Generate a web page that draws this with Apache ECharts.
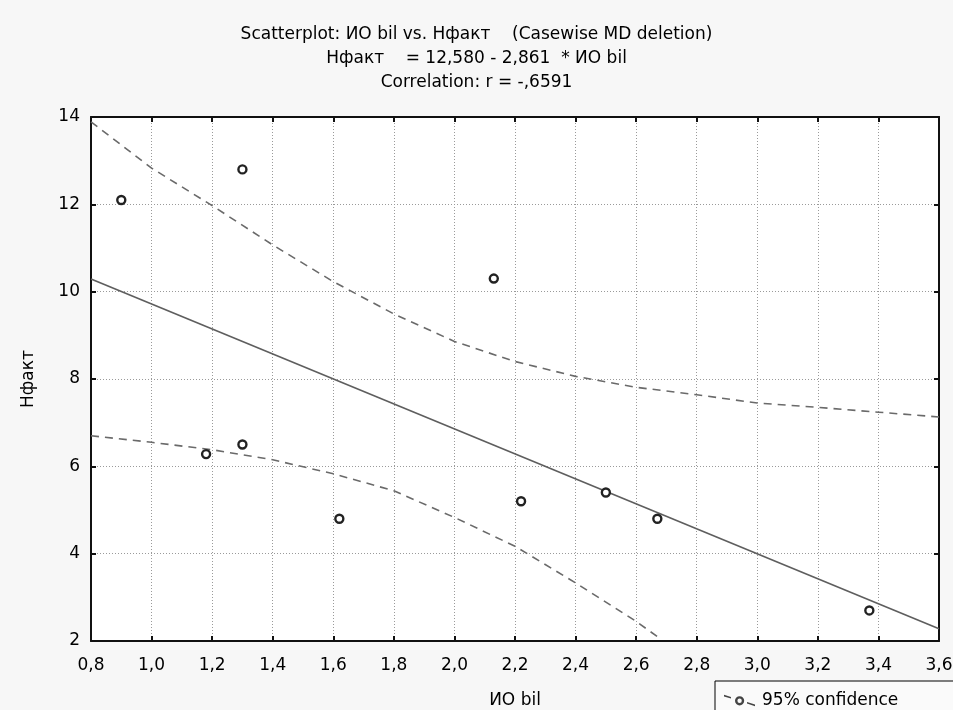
<!DOCTYPE html>
<html>
<head>
<meta charset="utf-8">
<script src="https://cdn.jsdelivr.net/npm/echarts@6/dist/echarts.min.js"></script>
<style>
  html, body { margin: 0; padding: 0; background: #f7f7f7; }
  #chart { width: 953px; height: 710px; }
</style>
</head>
<body>
<div id="chart"></div>
<script>
"use strict";
// points (ИО bil, Нфакт)
var pointX = [0.9, 1.3, 1.18, 1.3, 1.62, 2.13, 2.22, 2.5, 2.67, 3.37];
var pointY = [12.1, 12.8, 6.28, 6.5, 4.8, 10.3, 5.2, 5.4, 4.8, 2.7];

// regression line, read at both ends of the axis
var fitX = [0.8, 3.6];
var fitY = [10.29, 2.28];

// 95% confidence bands
var upperX = [0.8, 1.0, 1.2, 1.4, 1.6, 1.8, 2.0, 2.2, 2.4, 2.6, 2.8, 3.0, 3.2, 3.4, 3.6];
var upperY = [13.89, 12.83, 11.97, 11.07, 10.23, 9.49, 8.86, 8.40, 8.06, 7.81, 7.64, 7.45, 7.35, 7.24, 7.13];
var lowerX = [0.8, 1.0, 1.2, 1.4, 1.6, 1.8, 2.0, 2.2, 2.4, 2.6, 2.68];
var lowerY = [6.70, 6.55, 6.38, 6.15, 5.83, 5.44, 4.83, 4.17, 3.33, 2.45, 2.05];

var titleLines = [
    "Scatterplot: ИО bil vs. Нфакт    (Casewise MD deletion)",
    "Нфакт    = 12,580 - 2,861  * ИО bil",
    "Correlation: r = -,6591"
];

function pairs(xs, ys) {
    return xs.map(function (x, i) { return [x, ys[i]]; });
}

var FONT = "DejaVu Sans";
// legend glyph: dashed slanted line through a small ring
var legendIcon = "path://M0,0L7,2.2L7,3.8L0,1.6Z" +
    "M23,7.2L31,9.8L31,11.4L23,8.8Z" +
    "M11,6A4.6,4.6 0 1 0 20.2,6A4.6,4.6 0 1 0 11,6Z" +
    "M13.4,6A2.2,2.2 0 1 1 17.8,6A2.2,2.2 0 1 1 13.4,6Z";

var tickLabel = function (v) { return v.toFixed(1).replace(".", ","); };

var axisCommon = {
    axisLine: {show: true, onZero: false, lineStyle: {color: "#111", width: 2}},
    axisTick: {show: true, inside: true, length: 5, lineStyle: {color: "#111", width: 2}}
};

var option = {
    animation: false,
    backgroundColor: "#f7f7f7",
    title: {
        text: titleLines.join("\n"),
        left: "center",
        top: 23,
        padding: [0, 0, 0, 19],
        textStyle: {fontFamily: FONT, fontSize: 17, fontWeight: "normal", color: "#000", lineHeight: 24}
    },
    legend: {
        left: 715, top: 681,
        padding: [11, 60, 7, 9],
        borderColor: "#000", borderWidth: 1,
        backgroundColor: "#fafafa",
        itemWidth: 31, itemHeight: 12,
        selectedMode: false,
        textStyle: {fontFamily: FONT, fontSize: 17, color: "#000", padding: [0, 0, 0, 2]},
        data: [{name: "95% confidence", icon: legendIcon, itemStyle: {color: "#444"}}]
    },
    grid: {
        left: 91, right: 14, top: 117, bottom: 69,
        outerBoundsMode: "none", containLabel: false,
        show: true, backgroundColor: "#fff", borderWidth: 0
    },
    xAxis: [
        Object.assign({
            type: "value", min: 0.8, max: 3.6, interval: 0.2, position: "bottom",
            name: "ИО bil", nameLocation: "middle", nameGap: 51,
            nameTextStyle: {fontFamily: FONT, fontSize: 17, color: "#000"},
            axisLabel: {formatter: tickLabel, fontFamily: FONT, fontSize: 17, color: "#000", margin: 16},
            splitLine: {show: true, lineStyle: {color: "#9a9a9a", type: [1, 2], width: 1}}
        }, axisCommon),
        Object.assign({
            type: "value", min: 0.8, max: 3.6, interval: 0.2, position: "top",
            axisLabel: {show: false}, splitLine: {show: false}
        }, axisCommon)
    ],
    yAxis: [
        Object.assign({
            type: "value", min: 2, max: 14, interval: 2, position: "left",
            name: "Нфакт", nameLocation: "middle", nameGap: 54,
            nameTextStyle: {fontFamily: FONT, fontSize: 17, color: "#000"},
            axisLabel: {fontFamily: FONT, fontSize: 17, color: "#000", margin: 11},
            splitLine: {show: true, lineStyle: {color: "#9a9a9a", type: [1, 2], width: 1}}
        }, axisCommon),
        Object.assign({
            type: "value", min: 2, max: 14, interval: 2, position: "right",
            axisLabel: {show: false}, splitLine: {show: false}
        }, axisCommon)
    ],
    series: [
        {
            name: "fit", type: "line", data: pairs(fitX, fitY),
            symbol: "none", lineStyle: {color: "#5e5e5e", width: 1.6}, z: 3
        },
        {
            name: "95% confidence", type: "line", data: pairs(upperX, upperY),
            symbol: "none", lineStyle: {color: "#6a6a6a", width: 1.6, type: [8, 6]}, z: 3
        },
        {
            name: "95% confidence", type: "line", data: pairs(lowerX, lowerY),
            symbol: "none", lineStyle: {color: "#6a6a6a", width: 1.6, type: [8, 6]}, z: 3
        },
        {
            name: "points", type: "scatter", data: pairs(pointX, pointY),
            symbol: "circle", symbolSize: 8,
            itemStyle: {color: "#fff", borderColor: "#222", borderWidth: 2.4, opacity: 1}, z: 5
        }
    ]
};

var chart = echarts.init(document.getElementById("chart"));
chart.setOption(option);
</script>
</body>
</html>
